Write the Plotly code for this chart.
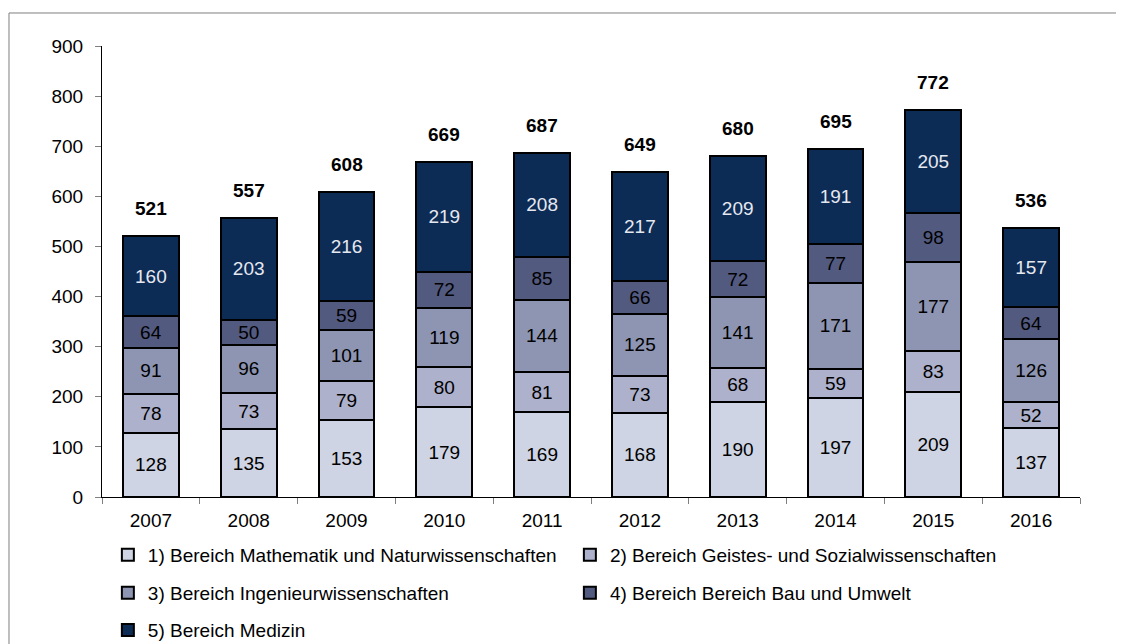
import plotly.graph_objects as go

years = ["2007", "2008", "2009", "2010", "2011", "2012", "2013", "2014", "2015", "2016"]
mathe_natur = [128, 135, 153, 179, 169, 168, 190, 197, 209, 137]
geistes_sozial = [78, 73, 79, 80, 81, 73, 68, 59, 83, 52]
ingenieur = [91, 96, 101, 119, 144, 125, 141, 171, 177, 126]
bau_umwelt = [64, 50, 59, 72, 85, 66, 72, 77, 98, 64]
medizin = [160, 203, 216, 219, 208, 217, 209, 191, 205, 157]

series_names = [
    "1) Bereich Mathematik und Naturwissenschaften",
    "2) Bereich Geistes- und Sozialwissenschaften",
    "3) Bereich Ingenieurwissenschaften",
    "4) Bereich Bereich Bau und Umwelt",
    "5) Bereich Medizin",
]
series_values = [mathe_natur, geistes_sozial, ingenieur, bau_umwelt, medizin]
colors = ["#CED4E3", "#AEB1CB", "#8D95B2", "#535A80", "#0C2B55"]
text_colors = ["#000000", "#000000", "#000000", "#000000", "#E6E8F0"]
legend_ids = ["legend", "legend2", "legend3", "legend4", "legend5"]

totals = [sum(v) for v in zip(*series_values)]

FONT = "Liberation Sans, Arial, sans-serif"
FS = 19

fig = go.Figure()
for name, vals, col, tcol, lg in zip(series_names, series_values, colors, text_colors, legend_ids):
    fig.add_trace(go.Bar(
        x=years, y=vals, name=name,
        marker=dict(color=col, line=dict(color="#000000", width=2)),
        text=[str(v) for v in vals], textposition="inside", insidetextanchor="middle",
        textangle=0, constraintext="none",
        textfont=dict(family=FONT, size=FS, color=tcol),
        legend=lg, hoverinfo="skip",
    ))

for i, t in enumerate(totals):
    fig.add_annotation(x=i, y=t, text="<b>%d</b>" % t, showarrow=False,
                       xref="x", yref="y",
                       yanchor="bottom", yshift=15,
                       font=dict(family=FONT, size=FS, color="#000000"))

# outer frame
fig.add_shape(type="rect", xref="paper", yref="paper",
              x0=-0.0951, x1=1.07, y0=-0.40, y1=1.0732,
              line=dict(color="#7F7F7F", width=1), fillcolor="rgba(0,0,0,0)", layer="below")

leg_common = dict(orientation="v", xanchor="left", yanchor="middle",
                  bgcolor="rgba(0,0,0,0)", borderwidth=0, itemwidth=30,
                  font=dict(family=FONT, size=FS, color="#000000"))
leg_pos = [(0.006, -0.1286), (0.4784, -0.1286), (0.006, -0.2129), (0.4784, -0.2129), (0.006, -0.295)]
legends = {}
for lg, (lx, ly) in zip(legend_ids, leg_pos):
    legends[lg] = dict(x=lx, y=ly, **leg_common)

fig.update_layout(
    barmode="stack", bargap=0.43,
    width=1124, height=644,
    margin=dict(l=94, r=52, t=38, b=155, autoexpand=False),
    paper_bgcolor="white", plot_bgcolor="white",
    font=dict(family=FONT, size=FS, color="#000000"),
    showlegend=True,
    **legends,
)
fig.update_xaxes(type="category", categoryorder="array", categoryarray=years,
                 showline=True, linecolor="#000000", linewidth=1,
                 ticks="outside", tickson="boundaries", ticklen=6, tickcolor="#808080",
                 ticklabelstandoff=6,
                 showgrid=False, tickangle=0, tickfont=dict(family=FONT, size=FS, color="#000000"))
fig.update_yaxes(range=[0, 900], dtick=100, showline=True, linecolor="#000000", linewidth=1,
                 ticks="outside", ticklen=6, tickcolor="#808080", showgrid=False,
                 ticklabelstandoff=8,
                 zeroline=False, tickfont=dict(family=FONT, size=FS, color="#000000"))

fig.write_html("out.html")
